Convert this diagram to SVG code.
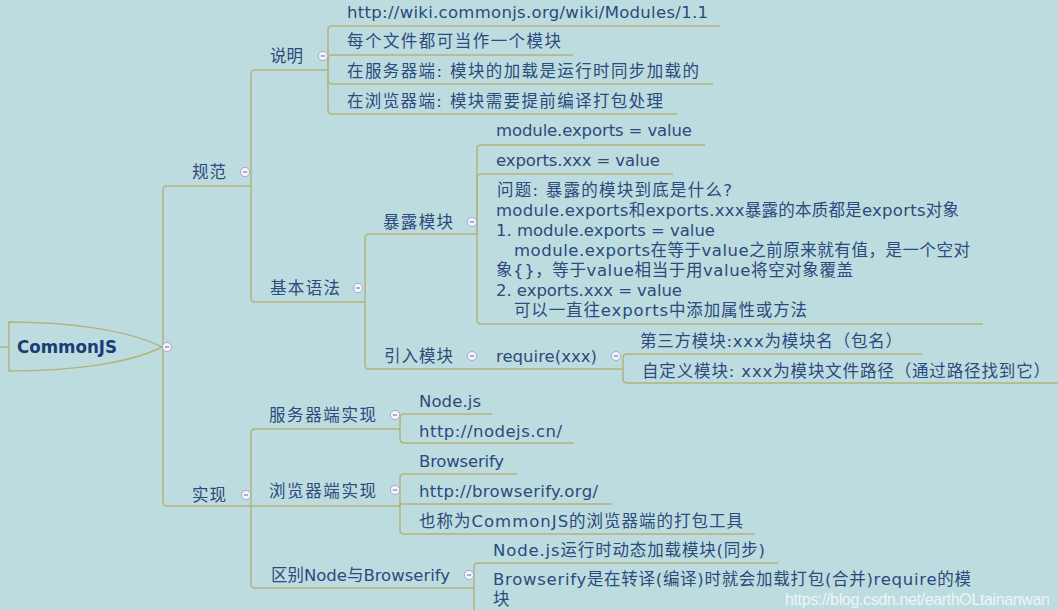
<svg xmlns="http://www.w3.org/2000/svg" width="1058" height="610" viewBox="0 0 1058 610">
<style>
.t { font-family: "DejaVu Sans", "Noto Sans CJK SC", sans-serif; font-size: 16.5px; fill: #2b4a7d; }
.root { font-family: "DejaVu Sans", "Noto Sans CJK SC", sans-serif; font-weight: bold; font-size: 17px; fill: #1b3c76; }
.ln { fill: none; stroke: #b4b37c; stroke-width: 1.5; }
.wm { font-family: "Liberation Sans", Arial, sans-serif; font-size: 16px; fill: #ffffff; fill-opacity: 0.75; }
</style>
<defs>
<g id="col">
<circle cx="0" cy="0" r="4.6" fill="#f5f5ff" stroke="#a8a8d2" stroke-width="1"/>
<line x1="-2.2" y1="0" x2="2.2" y2="0" stroke="#8888a8" stroke-width="1.3"/>
</g>
</defs>
<rect x="0" y="0" width="1058" height="610" fill="#bddcdf"/>

<g id="connectors">
<path class="ln" d="M0,347 H9"/>
<path class="ln" d="M163,347 V190 Q163,186 167,186 H251"/>
<path class="ln" d="M163,347 V502 Q163,506 167,506 H251"/>
<path class="ln" d="M251,186 V74 Q251,70 255,70 H328"/>
<path class="ln" d="M251,186 V298 Q251,302 255,302 H365"/>
<path class="ln" d="M328,70 V30 Q328,26 332,26 H720"/>
<path class="ln" d="M328,70 V59 Q328,55 332,55 H573"/>
<path class="ln" d="M328,70 V80 Q328,84 332,84 H713"/>
<path class="ln" d="M328,70 V110 Q328,114 332,114 H677"/>
<path class="ln" d="M365,302 V238 Q365,234 369,234 H477"/>
<path class="ln" d="M365,302 V365 Q365,369 369,369 H477"/>
<path class="ln" d="M477,234 V149 Q477,145 481,145 H705"/>
<path class="ln" d="M477,234 V178 Q477,174 481,174 H673"/>
<path class="ln" d="M477,234 V320 Q477,324 481,324 H983"/>
<path class="ln" d="M477,369 H623"/>
<path class="ln" d="M623,369 V358 Q623,354 627,354 H922"/>
<path class="ln" d="M623,369 V379 Q623,383 627,383 H1058"/>
<path class="ln" d="M251,506 V433 Q251,429 255,429 H400"/>
<path class="ln" d="M251,506 H400"/>
<path class="ln" d="M251,506 V584 Q251,588 255,588 H474"/>
<path class="ln" d="M400,429 V418 Q400,414 404,414 H492"/>
<path class="ln" d="M400,429 V439 Q400,443 404,443 H574"/>
<path class="ln" d="M400,506 V478 Q400,474 404,474 H517"/>
<path class="ln" d="M400,506 V504 H612"/>
<path class="ln" d="M400,506 V530 Q400,534 404,534 H755"/>
<path class="ln" d="M474,588 V567 Q474,563 478,563 H778"/>
<path class="ln" d="M474,588 V615"/>
</g>

<g id="root">
<path class="ln" d="M9,322 C70,322 128,330 162,347 C128,364 70,371 9,371 Z"/>
<text class="root" x="17" y="353" textLength="100" lengthAdjust="spacingAndGlyphs">CommonJS</text>
<use href="#col" x="167" y="347"/>
</g>

<g id="n-guifan">
<text class="t" x="192" y="178" textLength="34">规范</text>
<use href="#col" x="245" y="172"/>
</g>

<g id="n-shuoming">
<text class="t" x="270" y="62" textLength="33">说明</text>
<use href="#col" x="323" y="56"/>
</g>
<g id="n-url1"><text class="t" x="347" y="17.5" textLength="361">http://wiki.commonjs.org/wiki/Modules/1.1</text></g>
<g id="n-file"><text class="t" x="347" y="47" textLength="214">每个文件都可当作一个模块</text></g>
<g id="n-server"><text class="t" x="347" y="77" textLength="352">在服务器端: 模块的加载是运行时同步加载的</text></g>
<g id="n-browser"><text class="t" x="347" y="107" textLength="316">在浏览器端: 模块需要提前编译打包处理</text></g>

<g id="n-jiben">
<text class="t" x="270" y="294" textLength="70">基本语法</text>
<use href="#col" x="358" y="288"/>
</g>
<g id="n-baolu">
<text class="t" x="383" y="228" textLength="70">暴露模块</text>
<use href="#col" x="472" y="222"/>
</g>
<g id="n-me"><text class="t" x="496" y="136" textLength="196">module.exports = value</text></g>
<g id="n-ex"><text class="t" x="496" y="166" textLength="164">exports.xxx = value</text></g>
<g id="n-question">
<text class="t" x="497" y="196" textLength="235">问题: 暴露的模块到底是什么?</text>
<text class="t" x="496" y="216" textLength="463">module.exports和exports.xxx暴露的本质都是exports对象</text>
<text class="t" x="496" y="236" textLength="219">1. module.exports = value</text>
<text class="t" x="514" y="256" textLength="456">module.exports在等于value之前原来就有值，是一个空对</text>
<text class="t" x="496" y="276" textLength="357">象{}，等于value相当于用value将空对象覆盖</text>
<text class="t" x="496" y="296" textLength="186">2. exports.xxx = value</text>
<text class="t" x="514" y="316" textLength="293">可以一直往exports中添加属性或方法</text>
</g>
<g id="n-yinru">
<text class="t" x="384" y="362" textLength="69">引入模块</text>
<use href="#col" x="472" y="356"/>
</g>
<g id="n-require">
<text class="t" x="496" y="362" textLength="101">require(xxx)</text>
<use href="#col" x="616" y="356"/>
</g>
<g id="n-third"><text class="t" x="640" y="347" textLength="262">第三方模块:xxx为模块名（包名）</text></g>
<g id="n-custom"><text class="t" x="642" y="377" textLength="408">自定义模块: xxx为模块文件路径（通过路径找到它）</text></g>

<g id="n-shixian">
<text class="t" x="192" y="501" textLength="34">实现</text>
<use href="#col" x="246" y="495"/>
</g>
<g id="n-serverimpl">
<text class="t" x="269" y="421" textLength="107">服务器端实现</text>
<use href="#col" x="395" y="415"/>
</g>
<g id="n-node"><text class="t" x="419" y="406.5" textLength="62">Node.js</text></g>
<g id="n-nodecn"><text class="t" x="419" y="436.5" textLength="143">http://nodejs.cn/</text></g>
<g id="n-browserimpl">
<text class="t" x="269" y="496.5" textLength="107">浏览器端实现</text>
<use href="#col" x="395" y="490"/>
</g>
<g id="n-browserify"><text class="t" x="419" y="466.5" textLength="85">Browserify</text></g>
<g id="n-bfyurl"><text class="t" x="419" y="496.5" textLength="179">http://browserify.org/</text></g>
<g id="n-also"><text class="t" x="419" y="526.5" textLength="324">也称为CommonJS的浏览器端的打包工具</text></g>
<g id="n-diff">
<text class="t" x="271" y="581" textLength="179">区别Node与Browserify</text>
<use href="#col" x="469" y="575"/>
</g>
<g id="n-noderun"><text class="t" x="493" y="555.5" textLength="272">Node.js运行时动态加载模块(同步)</text></g>
<g id="n-bfycompile">
<text class="t" x="493" y="585" textLength="478">Browserify是在转译(编译)时就会加载打包(合并)require的模</text>
<text class="t" x="493" y="605">块</text>
</g>

<text class="wm" x="785" y="605" textLength="265">https://blog.csdn.net/earthOLtainanwan</text>
</svg>
